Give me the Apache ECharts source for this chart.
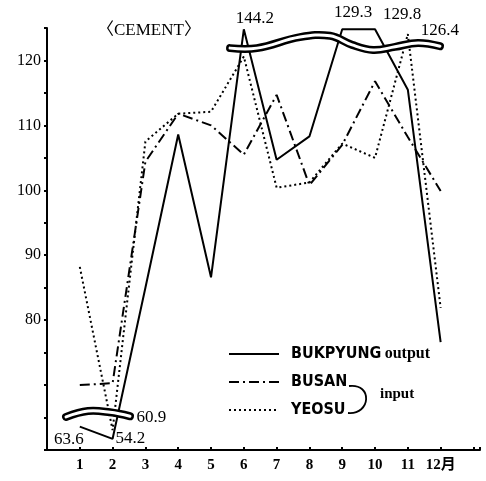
<!DOCTYPE html>
<html><head><meta charset="utf-8">
<script src="https://cdn.jsdelivr.net/npm/echarts@6/dist/echarts.min.js"></script>
<style>html,body{margin:0;padding:0;background:#fff}#c{width:486px;height:481px}</style>
</head><body><div id="c"></div>
<script>
// ---- data ----
const months = [1,2,3,4,5,6,7,8,9,10,11,12];
const xLabels = ['1','2','3','4','5','6','7','8','9','10','11','12月'];
const yLabels = [80,90,100,110,120];
const bukpyung = [63.6,54.2,85.0,108.6,86.6,144.2,104.7,108.3,129.3,129.8,115.5,76.6];
const busan    = [70.0,70.3,104.4,111.8,110.0,105.5,114.7,100.8,107.0,116.8,108.2,99.9];
const yeosu    = [88.2,60.9,107.5,111.8,112.1,120.6,100.4,101.2,107.2,105.0,126.4,81.9];
const seriesNames = ['BUKPYUNG output','BUSAN','YEOSU'];

// broken-axis display mapping (values beyond the breaks are compressed)
function shown(v){
  if (v > 122.5) return Math.min(122.5 + (v-122.5)*0.4, 124.8);
  if (v < 63.6) return 63.6 + (v-63.6)*0.2;
  return v;
}
// label placement (style only)
const labelCfg = {
  0: {0:{position:'bottom',offset:[-11,-1]}, 1:{position:'right',offset:[-2,0]},
      5:{position:'top',offset:[11,3]}, 8:{position:'top',offset:[11,-3]}, 9:{position:'top',offset:[27,-1]}},
  1: {},
  2: {1:{position:'right',offset:[19,-13]}, 10:{position:'right',offset:[8,-4]}}
};
const SERIF = "'Liberation Serif','DejaVu Serif',serif";
function build(vals, si){
  return months.map((m,i)=>{
    const item = {value:[m, shown(vals[i])]};
    const L = labelCfg[si][i];
    if (L) item.label = Object.assign({show:true, formatter: vals[i].toFixed(1),
      fontFamily:SERIF, fontSize:17, color:'#000'}, L);
    return item;
  });
}
const dashes = ['solid',[10,4,2,4],[2,3]];
const chart = echarts.init(document.getElementById('c'));
chart.setOption({
  backgroundColor:'#fff',
  animation:false,
  title:{text:'〈CEMENT〉', left:97, top:22, padding:0,
    textStyle:{fontFamily:"'Liberation Serif','Noto Sans CJK JP',serif", fontSize:17, fontWeight:'normal', color:'#000'}},
  grid:{left:47, right:6, top:28, bottom:31},
  xAxis:{type:'value', min:0, max:13.2, interval:1,
    axisLine:{lineStyle:{color:'#000', width:2}},
    axisTick:{show:true, inside:true, length:3, lineStyle:{color:'#000', width:2}},
    splitLine:{show:false},
    axisLabel:{margin:8, color:'#000', fontFamily:"'Liberation Serif','Noto Sans CJK JP',serif", fontSize:15, fontWeight:'bold',
      showMinLabel:true, showMaxLabel:true,
      formatter:v=>{const i=months.indexOf(v); return i>=0?xLabels[i]:'';}}
  },
  yAxis:{type:'value', min:60, max:125, interval:5,
    axisLine:{show:true, lineStyle:{color:'#000', width:2}},
    axisTick:{show:true, length:3, lineStyle:{color:'#000', width:2}},
    splitLine:{show:false},
    axisLabel:{margin:6, color:'#000', fontFamily:SERIF, fontSize:16,
      formatter:v=>yLabels.indexOf(v)>=0?String(v):''}
  },
  legend:{orient:'vertical', left:228, top:346, padding:0, itemWidth:50, itemHeight:14, itemGap:12,
    data:seriesNames, itemStyle:{opacity:0},
    formatter:n=> n==='BUKPYUNG output' ? '{a|BUKPYUNG} {b|output}' : '{a|'+n+'}',
    textStyle:{padding:[0,0,0,7], rich:{
      a:{fontFamily:"'DejaVu Sans Condensed','Liberation Sans',sans-serif", fontWeight:'bold', fontSize:16, color:'#000'},
      b:{fontFamily:SERIF, fontWeight:'bold', fontSize:16, color:'#000'}}}
  },
  series:[bukpyung,busan,yeosu].map((vals,si)=>({
    name:seriesNames[si], type:'line', data:build(vals,si), symbol:'circle', symbolSize:0, showSymbol:true, z:2+si,
    lineStyle:{color:'#000', width:2, type:dashes[si]}, itemStyle:{color:'#000'}
  }))
});

// break bands and legend brace (decorations positioned through the axes)
const topBreak = [[5.58,121.9],[6.4,121.9],[7.71,123.6],[8.63,123.8],[9.3,122.4],[9.94,121.6],[10.61,122.1],[11.31,122.7],[11.98,122.2]];
const lowBreak = [[0.58,65.1],[1.25,66.0],[1.92,65.8],[2.53,65.2]];
function px(list){return list.map(p=>chart.convertToPixel({gridIndex:0}, p));}
function band(pts){
  return [
    {type:'polyline', z:100, shape:{points:pts, smooth:0.4}, style:{stroke:'#000', lineWidth:8, fill:null, lineCap:'round', lineJoin:'round'}},
    {type:'polyline', z:101, shape:{points:pts, smooth:0.4}, style:{stroke:'#fff', lineWidth:3, fill:null, lineCap:'round', lineJoin:'round'}}
  ];
}
const g = [].concat(band(px(topBreak)), band(px(lowBreak)));
g.push({type:'bezierCurve', z:100, shape:{x1:349, y1:386, cpx1:373, cpy1:383, cpx2:371, cpy2:415, x2:348, y2:413},
  style:{stroke:'#000', lineWidth:1.8, fill:null}});
g.push({type:'text', z:100, left:380, top:387, style:{text:'input', fontFamily:SERIF, fontWeight:'bold', fontSize:15, fill:'#000'}});
chart.setOption({graphic:g});
</script></body></html>
